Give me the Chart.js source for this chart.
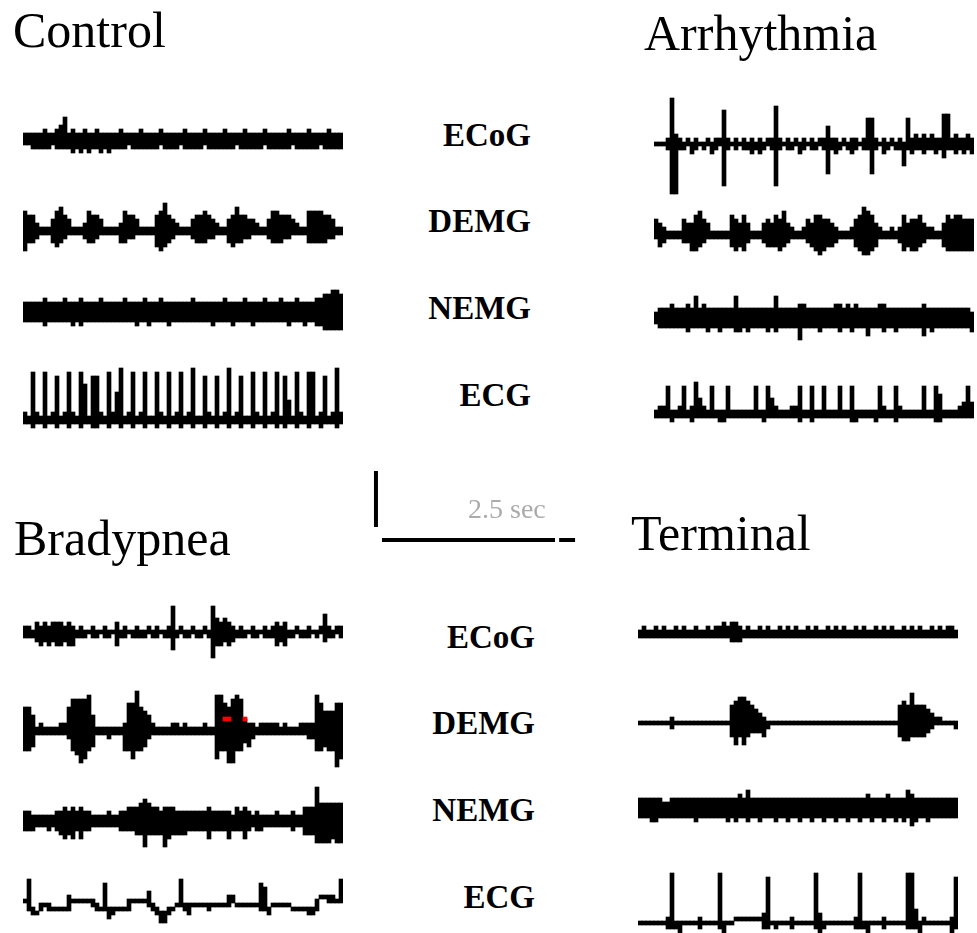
<!DOCTYPE html>
<html>
<head>
<script src="https://cdn.jsdelivr.net/npm/chart.js"></script>
<title>Traces</title>
<style>
  body {
    margin: 0;
    width: 977px;
    height: 933px;
    overflow: hidden;
    position: relative;
    background: #fff;
    font-family: "Liberation Serif", "DejaVu Serif", serif;
    color: #000;
  }
  canvas { position: absolute; }
  .title {
    position: absolute;
    font-size: 50px;
    line-height: 50px;
    white-space: nowrap;
  }
  .lead {
    position: absolute;
    width: 120px;
    font-size: 33px;
    line-height: 33px;
    font-weight: bold;
    text-align: right;
    white-space: nowrap;
  }
  .scale-text {
    position: absolute;
    font-size: 28px;
    line-height: 28px;
    color: #ababab;
    white-space: nowrap;
  }
</style>
</head>
<body>
<script>
// panel titles and lead names
const panelTitles = ['Control', 'Arrhythmia', 'Bradypnea', 'Terminal'];
const leadNames = ['ECoG', 'DEMG', 'NEMG', 'ECG'];

// every trace is a row of samples; hi = rows above the trace centre, lo = rows below
// ---- Control ----
const ctrlEcogHi = [
  1,1,1,1,1,2,1,1,2,3, 5,1,2,1,1,2,1,1,2,1, 1,1,1,1,2,1,1,1,1,2, 1,1,1,1,2,1,1,1,1,1,
  2,1,1,1,1,2,1,1,1,1, 2,1,1,1,1,2,1,1,1,1, 2,1,1,1,1,1,2,1,1,1, 1,2,1,1,1,1,2,1,1,1];
const ctrlEcogLo = [
  1,1,2,2,2,2,2,1,2,2, 2,2,3,2,3,2,3,2,2,3, 2,3,2,2,2,2,1,2,2,2, 2,2,2,2,1,2,2,2,2,1,
  2,2,2,2,2,1,2,2,2,2, 2,2,2,1,2,2,2,2,2,2, 1,2,2,2,2,2,2,1,2,2, 2,2,2,2,1,2,2,2,2,2];
const ctrlDemgHi = [
  4,3,3,1,0,0,0,2,4,5, 3,2,0,0,0,1,4,3,3,2, 0,0,0,0,1,4,3,3,2,0, 0,0,0,3,4,6,3,2,1,0,
  0,0,2,3,3,4,3,2,1,0, 0,2,3,5,3,3,2,2,1,0, 0,2,4,4,3,3,3,2,1,0, 0,4,4,4,4,3,3,2,0,0];
const ctrlDemgLo = [
  5,3,3,2,1,1,1,3,4,3, 2,1,1,1,1,2,3,3,2,1, 1,1,1,1,3,3,2,2,1,1, 1,1,1,4,5,4,3,2,1,1,
  1,1,2,3,3,3,2,2,1,1, 1,3,4,3,3,2,2,1,1,1, 1,2,3,3,3,2,2,1,1,1, 1,3,3,3,3,3,2,2,1,1];
const ctrlNemgHi = [
  2,2,2,2,2,3,2,2,2,2, 3,2,2,2,3,2,2,2,2,3, 2,2,2,2,2,3,2,2,2,2, 3,2,2,2,3,2,2,2,2,2,
  2,2,3,2,2,2,2,2,2,2, 3,2,2,2,2,3,2,2,2,2, 3,2,2,2,3,2,2,2,3,2, 2,2,2,3,3,4,4,5,5,4];
const ctrlNemgLo = [
  2,2,2,2,2,3,2,2,2,2, 2,2,3,2,3,2,2,2,2,2, 2,2,2,2,2,2,2,2,3,2, 2,3,2,2,2,2,3,2,2,2,
  2,2,2,2,2,2,2,3,2,2, 2,2,3,2,2,2,2,3,2,2, 2,2,2,2,2,2,3,2,2,2, 3,2,2,3,3,4,4,4,4,4];
const ctrlEcgHi = [
  1,0,11,1,0,11,0,1,10,0, 1,11,1,0,11,8,0,10,10,1, 0,11,1,6,12,0,1,11,0,1, 11,0,0,11,1,0,11,0,1,11,
  0,1,12,0,0,10,1,0,10,0, 1,12,0,1,10,0,0,11,1,0, 11,0,1,11,0,10,4,0,11,1, 0,11,11,0,1,10,0,1,12,1];
const ctrlEcgLo = [
  1,1,2,1,1,2,1,1,2,1, 1,2,1,1,2,1,1,2,2,1, 1,2,1,1,2,1,1,2,1,1, 2,1,1,2,1,1,2,1,1,2,
  1,1,2,1,1,2,1,1,2,1, 1,2,1,1,2,1,1,2,1,1, 2,1,1,2,1,2,1,1,2,1, 1,2,1,1,2,1,1,1,2,1];

// ---- Arrhythmia ----
const arrEcogHi = [
  0,0,0,1,11,2,1,0,1,0, 1,0,0,1,0,1,1,8,1,0, 1,0,1,0,1,0,1,0,1,1, 9,1,0,1,0,1,0,1,0,1,
  0,1,1,4,1,1,0,1,0,1, 1,0,1,6,6,1,0,1,0,1, 0,1,0,6,1,2,1,2,1,2, 1,1,7,7,1,2,1,1,2,1];
const arrEcogLo = [
  0,0,0,1,12,12,1,1,0,2, 1,0,1,0,2,1,0,10,1,0, 1,0,1,1,2,1,2,1,0,1, 10,1,0,1,1,0,2,1,0,1,
  1,0,1,7,1,2,1,0,1,2, 1,0,1,1,7,1,0,2,1,0, 1,1,5,1,2,1,1,2,1,1, 2,1,3,1,1,2,1,2,1,2];
const arrDemgHi = [
  3,2,1,0,0,0,0,3,2,2, 4,5,3,2,0,0,0,0,0,4, 3,2,4,2,0,0,0,2,3,2, 4,3,5,2,1,0,0,1,3,2,
  4,4,3,3,2,1,0,0,0,1, 3,4,6,5,4,2,1,0,0,1, 0,1,4,2,3,3,4,2,1,1, 0,0,2,4,3,4,4,3,3,3];
const arrDemgLo = [
  1,3,2,1,1,1,1,2,2,4, 4,3,2,1,1,1,1,1,1,3, 4,3,4,2,1,1,1,2,3,3, 3,4,3,2,1,1,1,1,2,3,
  4,5,4,3,3,2,1,1,1,1, 3,4,5,5,4,3,1,1,1,1, 1,2,4,3,4,4,3,2,1,1, 1,1,3,4,4,4,4,4,4,4];
const arrNemgHi = [
  1,2,2,2,3,2,2,2,3,2, 5,2,3,2,2,2,2,2,2,2, 5,2,2,2,2,2,2,2,2,2, 5,2,2,2,2,2,3,3,2,2,
  2,2,2,2,2,3,3,2,3,2, 3,2,2,2,2,2,3,3,2,2, 2,2,2,2,2,2,2,3,2,2, 2,2,2,2,2,2,2,2,2,1];
const arrNemgLo = [
  1,2,2,2,2,2,2,2,3,2, 2,2,2,3,2,2,3,2,2,2, 3,3,2,3,2,2,2,2,3,2, 3,2,2,2,2,2,5,2,2,2,
  2,3,2,2,2,2,3,2,2,3, 2,2,2,4,2,2,2,3,2,2, 3,2,2,2,2,2,2,4,2,3, 2,2,2,2,2,2,2,2,2,3];
const arrEcgHi = [
  0,1,1,6,0,0,1,6,0,1, 7,3,1,0,6,0,0,0,6,0, 0,0,0,0,0,6,0,0,6,3, 1,0,0,0,1,1,6,0,0,6,
  0,0,6,0,0,0,6,0,0,6, 0,0,0,0,0,0,6,1,0,0, 6,1,0,0,0,0,0,6,0,0, 6,4,0,0,0,0,1,2,6,2];
const arrEcgLo = [
  1,1,1,1,2,1,1,1,1,2, 1,1,1,1,1,1,2,2,1,1, 1,1,1,1,1,1,1,2,1,1, 1,1,1,1,1,1,2,1,1,2,
  1,1,1,1,1,1,1,1,1,2, 2,1,1,1,1,2,1,1,1,1, 2,1,1,1,1,1,1,1,1,1, 2,2,1,1,1,1,1,1,1,1];

// ---- Bradypnea ----
const bradEcogHi = [
  1,1,0,2,1,2,1,2,2,2, 1,2,1,0,1,0,0,1,0,0, 1,0,0,2,0,1,0,0,1,0, 0,1,0,1,0,0,1,6,0,1,
  0,0,1,0,0,1,0,6,3,2, 3,2,1,0,1,0,0,1,0,0, 1,0,1,2,1,2,0,0,1,0, 0,1,0,0,1,4,1,0,1,1];
const bradEcogLo = [
  1,1,1,2,3,2,3,2,3,3, 2,3,3,1,1,1,0,1,1,0, 1,1,0,3,1,1,0,1,1,1, 1,0,1,1,0,1,1,4,1,0,
  1,1,0,1,1,0,1,6,3,3, 2,3,2,1,1,1,0,1,1,0, 1,1,1,3,2,3,1,1,0,1, 1,1,0,1,0,2,1,1,0,1];
const bradDemgHi = [
  5,5,3,0,1,0,0,0,0,1, 1,5,7,7,7,7,8,3,0,0, 0,0,0,0,0,1,6,6,9,5, 4,3,1,0,0,0,0,1,1,0,
  1,0,0,0,0,1,0,0,8,8, 6,5,7,8,7,2,1,1,0,1, 1,1,1,1,0,1,0,0,0,1, 1,1,1,8,6,4,4,4,6,6];
const bradDemgLo = [
  5,5,4,1,1,1,1,1,1,1, 1,2,5,6,8,7,5,4,1,1, 1,2,1,1,1,5,5,7,5,5, 4,2,1,1,1,1,1,1,1,1,
  1,1,1,1,1,1,1,1,7,5, 5,8,8,5,5,3,4,2,1,1, 1,1,1,1,1,1,1,1,1,1, 1,2,2,5,5,4,5,5,9,7];
// the two small red blips inside the third diaphragm burst (row above centre)
const bradDemgRed = [
  null,null,null,null,null,null,null,null,null,null, null,null,null,null,null,null,null,null,null,null,
  null,null,null,null,null,null,null,null,null,null, null,null,null,null,null,null,null,null,null,null,
  null,null,null,null,null,null,null,null,null,null, 2.5,2.5,null,null,null,2.5,null,null,null,null,
  null,null,null,null,null,null,null,null,null,null, null,null,null,null,null,null,null,null,null,null];
const bradNemgHi = [
  2,2,1,1,1,1,1,1,2,2, 3,2,3,2,3,2,2,1,1,1, 1,2,1,1,2,2,3,3,3,4, 5,4,3,3,2,3,3,3,2,2,
  2,2,2,2,2,2,3,2,2,2, 2,2,1,3,2,3,2,1,2,1, 1,1,1,2,1,1,1,2,1,1, 3,3,3,8,4,4,4,4,4,4];
const bradNemgLo = [
  2,2,2,1,1,1,2,1,2,3, 4,3,4,2,4,2,2,1,1,1, 1,1,1,1,2,2,2,2,3,3, 6,3,3,3,3,6,4,3,3,3,
  3,2,2,2,2,2,4,2,2,2, 2,4,2,2,2,4,2,1,2,2, 1,1,1,1,1,1,1,2,1,1, 3,3,3,5,5,5,5,4,5,5];
// wandering ECG: negative hi / lo means the whole sample sits below / above the centre
const bradEcgHi = [
  1,6,-1,-2,0,0,0,-1,-1,-1, -1,2,1,1,1,1,1,1,0,-1, 5,-1,-1,-1,-1,-1,1,1,1,1,
  1,3,0,-1,-2,-2,-1,-1,0,6, 0,0,0,0,0,0,0,0,0,0, 0,2,2,0,0,0,0,0,0,5,
  4,-1,0,0,0,0,0,-1,-1,-1, -1,-1,-1,1,2,2,2,2,1,6];
const bradEcgLo = [
  -1,1,2,2,1,0,1,1,1,1, 1,1,-1,-1,-1,-1,-1,0,1,1, 1,3,2,1,1,1,1,-1,-1,-1,
  -1,0,1,2,4,4,2,1,0,0, 1,2,0,0,0,0,1,0,0,0, 0,0,-1,0,0,0,0,0,0,1,
  1,2,0,0,0,0,0,1,1,1, 1,2,2,1,-2,-2,-1,-1,-1,-1];

// ---- Terminal ----
const termEcogHi = [
  0,1,0,0,1,0,1,0,0,1, 0,1,0,0,1,0,0,1,0,1, 1,2,1,2,2,1,0,1,0,0, 1,0,1,0,0,1,0,1,0,1,
  0,0,1,0,1,0,0,1,0,1, 0,1,0,0,1,0,1,0,0,1, 0,1,0,1,0,0,1,0,1,0, 1,0,0,1,0,1,0,1,1,0];
const termEcogLo = [
  1,1,1,1,1,1,1,1,1,1, 1,1,1,1,1,1,1,1,1,1, 1,1,1,2,2,2,1,1,1,1, 1,1,1,1,1,1,1,1,1,1,
  1,1,1,1,1,1,1,1,1,1, 1,1,1,1,1,1,1,1,1,1, 1,1,1,1,1,1,1,1,1,1, 1,1,1,1,1,1,1,1,1,1];
const termDemgHi = [
  0,0,0,0,0,0,0,0,1,0, 0,0,0,0,0,0,0,0,0,0, 0,0,0,4,5,6,6,5,4,3, 2,1,0,0,0,0,0,0,0,0,
  0,0,0,0,0,0,0,0,0,0, 0,0,0,0,0,0,0,0,0,0, 0,0,0,0,0,4,5,4,7,4, 4,4,3,2,1,1,0,0,0,0];
const termDemgLo = [
  0,0,0,0,0,0,0,0,1,0, 0,0,0,0,0,0,0,0,0,0, 0,0,0,3,5,3,5,3,2,2, 2,3,1,0,0,0,0,0,0,0,
  0,0,0,0,0,0,0,0,0,0, 0,0,0,0,0,0,0,0,0,0, 0,0,0,0,0,3,4,4,3,3, 3,3,2,1,0,0,0,0,0,1];
const termNemgHi = [
  2,2,2,2,2,2,1,1,2,2, 2,2,2,2,2,2,2,2,2,2, 2,2,2,2,2,3,2,4,2,2, 2,2,2,2,2,2,2,2,2,2,
  2,2,2,2,2,2,2,2,2,2, 2,2,2,2,2,2,2,3,2,2, 2,2,3,2,2,2,2,4,3,2, 2,2,2,2,2,2,2,2,2,2];
const termNemgLo = [
  2,2,2,3,3,2,2,2,2,2, 2,2,2,2,3,2,2,2,2,2, 2,2,3,2,3,2,2,3,2,2, 3,2,2,2,3,2,2,3,2,2,
  3,2,2,3,2,2,3,2,2,3, 2,2,3,2,2,3,2,2,3,2, 2,3,2,2,3,2,3,2,4,3, 2,2,3,2,2,2,2,2,2,2];
const termEcgHi = [
  0,0,0,0,0,0,0,1,12,0, 0,0,0,0,0,1,0,0,0,0, 12,0,0,0,1,1,1,1,1,1, 1,2,11,0,0,0,0,0,1,0,
  0,0,0,0,12,2,0,0,0,0, 0,0,0,0,1,12,0,0,0,0, 0,1,0,0,0,0,0,12,12,3, 0,1,0,0,0,0,0,0,1,11];
const termEcgLo = [
  0,0,0,0,0,0,0,1,1,1, 2,0,0,0,0,1,0,0,0,0, 1,2,0,0,-1,-1,-1,-1,-1,-1, -1,1,1,0,1,0,0,0,1,0,
  0,0,0,0,1,2,1,0,0,0, 0,0,0,0,1,1,1,2,0,0, 0,1,0,0,0,0,0,1,1,1, 2,0,0,0,0,0,0,0,2,1];

// scale bar: 2.5 s horizontal, plain vertical amplitude bar
const scaleBarTime = [0, 2.5];
const scaleBarTail = [2.56, 2.79];
const scaleBarAmp = [1.3, 6.9];
const scaleBarLabel = '2.5 sec';

// ---------- layout ----------
const COL = 4;       // px per sample column
const ROWS = 15;     // rows each side of the centre line
const panels = [
  { title: panelTitles[0], tx: 13, ty: 5, x: 23,
    traces: [[ctrlEcogHi, ctrlEcogLo, 139], [ctrlDemgHi, ctrlDemgLo, 229], [ctrlNemgHi, ctrlNemgLo, 312], [ctrlEcgHi, ctrlEcgLo, 418]] },
  { title: panelTitles[1], tx: 644, ty: 8, x: 654,
    traces: [[arrEcogHi, arrEcogLo, 144], [arrDemgHi, arrDemgLo, 233], [arrNemgHi, arrNemgLo, 318], [arrEcgHi, arrEcgLo, 412]] },
  { title: panelTitles[2], tx: 14, ty: 513, x: 23,
    traces: [[bradEcogHi, bradEcogLo, 632], [bradDemgHi, bradDemgLo, 729, bradDemgRed], [bradNemgHi, bradNemgLo, 821], [bradEcgHi, bradEcgLo, 905]] },
  { title: panelTitles[3], tx: 631, ty: 508, x: 638,
    traces: [[termEcogHi, termEcogLo, 632], [termDemgHi, termDemgLo, 723], [termNemgHi, termNemgLo, 808], [termEcgHi, termEcgLo, 923]] }
];
const leadBaselines = [[147, 233, 320, 407], [649, 735, 822, 909]];
const leadRight = [531, 535];

function addText(cls, text, left, top) {
  const d = document.createElement('div');
  d.className = cls;
  d.textContent = text;
  d.style.left = left + 'px';
  d.style.top = top + 'px';
  document.body.appendChild(d);
}

// solid columns, no gaps, red drawn over black
const barStyle = {
  barPercentage: 1,
  categoryPercentage: 1,
  grouped: false,
  borderWidth: 0
};

function drawTrace(x, y, hi, lo, red) {
  const c = document.createElement('canvas');
  c.width = hi.length * COL;
  c.height = ROWS * 2 * COL;
  c.style.left = x + 'px';
  c.style.top = (y - ROWS * COL) + 'px';
  document.body.appendChild(c);

  const datasets = [{
    ...barStyle,
    data: hi.map((h, i) => [-(lo[i] + 0.5), h + 0.5]),
    backgroundColor: '#000',
    order: 1
  }];
  if (red) {
    datasets.push({
      ...barStyle,
      data: red.map(v => v == null ? null : [v - 0.5, v + 0.5]),
      backgroundColor: '#ff0000',
      order: 0
    });
  }

  new Chart(c, {
    type: 'bar',
    data: { labels: hi.map((_, i) => i), datasets: datasets },
    options: {
      responsive: false,
      animation: false,
      devicePixelRatio: 1,
      layout: { padding: 0 },
      plugins: { legend: { display: false }, tooltip: { enabled: false } },
      scales: {
        x: { display: false },
        y: { display: false, min: -ROWS, max: ROWS }
      }
    }
  });
}

panels.forEach(p => {
  addText('title', p.title, p.tx, p.ty);
  p.traces.forEach(t => drawTrace(p.x, t[2], t[0], t[1], t[3]));
});

leadBaselines.forEach((row, k) => {
  row.forEach((b, i) => addText('lead', leadNames[i], leadRight[k] - 120, b - 28));
});

// scale bar
(function () {
  const c = document.createElement('canvas');
  c.width = 220;
  c.height = 90;
  c.style.left = '366px';
  c.style.top = '462px';
  document.body.appendChild(c);
  const line = { showLine: true, borderColor: '#000', borderWidth: 4, borderCapStyle: 'butt', pointRadius: 0 };
  new Chart(c, {
    type: 'scatter',
    data: {
      datasets: [
        { ...line, data: scaleBarTime.map(t => ({ x: t, y: 0 })) },
        { ...line, data: scaleBarTail.map(t => ({ x: t, y: 0 })) },
        { ...line, data: scaleBarAmp.map(a => ({ x: -0.087, y: a })) }
      ]
    },
    options: {
      responsive: false,
      animation: false,
      devicePixelRatio: 1,
      layout: { padding: 0 },
      plugins: { legend: { display: false }, tooltip: { enabled: false } },
      scales: {
        x: { type: 'linear', display: false, min: -0.231, max: 2.948 },
        y: { type: 'linear', display: false, min: -1.2, max: 7.8 }
      }
    }
  });
  addText('scale-text', scaleBarLabel, 468, 495);
})();
</script>
</body>
</html>
